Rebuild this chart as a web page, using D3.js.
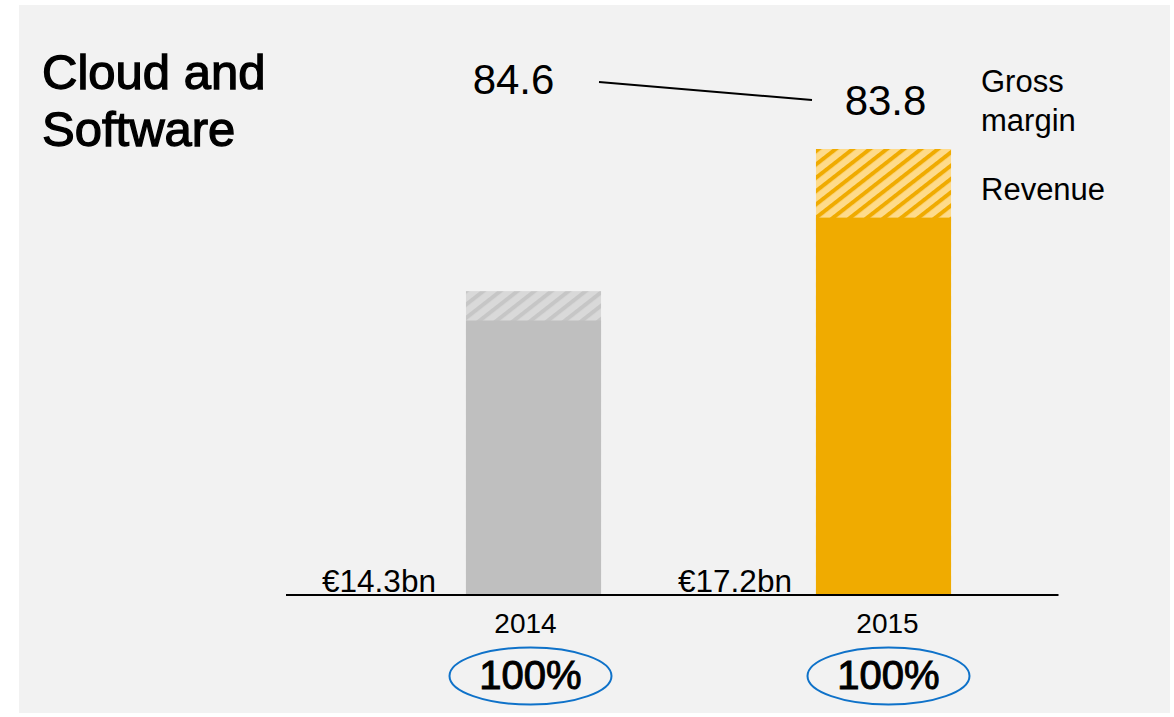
<!DOCTYPE html>
<html>
<head>
<meta charset="utf-8">
<script src="https://cdn.jsdelivr.net/npm/d3@7"></script>
<style>
  body { margin: 0; background: #ffffff; }
  text { font-family: "Liberation Sans", Arial, sans-serif; fill: #000; }
</style>
</head>
<body>
<div id="chart"></div>
<script>
// chart values
var years = ["2014", "2015"];
var revenue = [14.3, 17.2];          // top of bar (bn)
var revenueSolid = [13.7, 15.8];     // top of the solid part, hatched above
var revenueLabels = ["€14.3bn", "€17.2bn"];
var grossMargin = [84.6, 83.8];
var shareLabels = ["100%", "100%"];

var svgWidth = 1174;
var svgHeight = 717;

var svg = d3.select("#chart")
  .append("svg")
  .attr("width", svgWidth)
  .attr("height", svgHeight);

// grey panel
svg.append("rect")
  .attr("x", 19)
  .attr("y", 5)
  .attr("width", 1151)
  .attr("height", 708)
  .attr("fill", "#f2f2f2");

// hatch patterns
var defs = svg.append("defs");
function hatch(id, light, dark) {
  var p = defs.append("pattern")
    .attr("id", id)
    .attr("patternUnits", "userSpaceOnUse")
    .attr("width", 10.5)
    .attr("height", 10)
    .attr("patternTransform", "rotate(52)");
  p.append("rect").attr("width", 10.5).attr("height", 10).attr("fill", light);
  p.append("rect").attr("width", 4).attr("height", 10).attr("fill", dark);
}
hatch("hatch2014", "#d9d9d9", "#c6c6c6");
hatch("hatch2015", "#fedb8b", "#f0ab00");

var solidColors = ["#bfbfbf", "#f0ab00"];

// scales
var x = d3.scaleBand()
  .domain(years)
  .range([358.5, 1058.5])
  .paddingInner(0.614)
  .paddingOuter(0.307);

var y = d3.scaleLinear()
  .domain([8.1, 17.2])
  .range([595, 149]);

var marginY = d3.scaleLinear()
  .domain([83.8, 84.6])
  .range([100, 82]);

var cx = d => x(d) + x.bandwidth() / 2;

// title (regular face thickened with a stroke -> semibold look)
var title = svg.append("text")
  .attr("x", 42)
  .attr("y", 89)
  .attr("font-size", 49)
  .attr("stroke", "#000")
  .attr("stroke-width", 1.3);
title.append("tspan").attr("x", 42).text("Cloud and");
title.append("tspan").attr("x", 42).attr("dy", 57).text("Software");

// bars: hatched part (full height) then solid part on top
svg.selectAll(".bar-hatch")
  .data(years)
  .enter()
  .append("rect")
  .attr("class", "bar-hatch")
  .attr("x", d => x(d))
  .attr("width", x.bandwidth())
  .attr("y", (d, i) => y(revenue[i]))
  .attr("height", (d, i) => y(y.domain()[0]) - y(revenue[i]))
  .attr("fill", d => "url(#hatch" + d + ")");

svg.selectAll(".bar-solid")
  .data(years)
  .enter()
  .append("rect")
  .attr("class", "bar-solid")
  .attr("x", d => x(d))
  .attr("width", x.bandwidth())
  .attr("y", (d, i) => y(revenueSolid[i]))
  .attr("height", (d, i) => y(y.domain()[0]) - y(revenueSolid[i]))
  .attr("fill", (d, i) => solidColors[i]);

// baseline
svg.append("line")
  .attr("x1", 286)
  .attr("x2", x.range()[1])
  .attr("y1", y(y.domain()[0]))
  .attr("y2", y(y.domain()[0]))
  .attr("stroke", "#000")
  .attr("stroke-width", 2);

// revenue labels left of bars
svg.selectAll(".rev-label")
  .data(years)
  .enter()
  .append("text")
  .attr("class", "rev-label")
  .attr("x", (d, i) => x(d) - (i === 0 ? 30 : 24))
  .attr("y", 592)
  .attr("text-anchor", "end")
  .attr("font-size", 31.5)
  .text((d, i) => revenueLabels[i]);

// year labels
var yearDx = [-8, 4];
svg.selectAll(".year-label")
  .data(years)
  .enter()
  .append("text")
  .attr("class", "year-label")
  .attr("x", (d, i) => cx(d) + yearDx[i])
  .attr("y", 633)
  .attr("text-anchor", "middle")
  .attr("font-size", 28)
  .text(d => d);

// ellipses with 100%
var shareDx = [-3, 5];
svg.selectAll(".share-ellipse")
  .data(years)
  .enter()
  .append("ellipse")
  .attr("class", "share-ellipse")
  .attr("cx", (d, i) => cx(d) + shareDx[i])
  .attr("cy", 676)
  .attr("rx", 81)
  .attr("ry", 28.5)
  .attr("fill", "none")
  .attr("stroke", "#0f72c9")
  .attr("stroke-width", 2);

svg.selectAll(".share-label")
  .data(years)
  .enter()
  .append("text")
  .attr("class", "share-label")
  .attr("x", (d, i) => cx(d) + shareDx[i])
  .attr("y", 689)
  .attr("text-anchor", "middle")
  .attr("font-size", 40)
  .attr("stroke", "#000")
  .attr("stroke-width", 1)
  .text((d, i) => shareLabels[i]);

// gross margin labels and connecting line
var marginDx = [-20, 2];
svg.selectAll(".margin-label")
  .data(years)
  .enter()
  .append("text")
  .attr("class", "margin-label")
  .attr("x", (d, i) => cx(d) + marginDx[i])
  .attr("y", (d, i) => marginY(grossMargin[i]) + (i === 0 ? 12 : 15))
  .attr("text-anchor", "middle")
  .attr("font-size", 42)
  .text((d, i) => grossMargin[i].toFixed(1));

svg.append("line")
  .attr("x1", 599)
  .attr("x2", 812)
  .attr("y1", marginY(grossMargin[0]))
  .attr("y2", marginY(grossMargin[1]))
  .attr("stroke", "#000")
  .attr("stroke-width", 2);

// legend text
var legend = svg.append("text")
  .attr("x", 981)
  .attr("y", 92)
  .attr("font-size", 31);
legend.append("tspan").attr("x", 981).text("Gross");
legend.append("tspan").attr("x", 981).attr("dy", 39).text("margin");

svg.append("text")
  .attr("x", 981)
  .attr("y", 200)
  .attr("font-size", 31)
  .text("Revenue");
</script>
</body>
</html>
